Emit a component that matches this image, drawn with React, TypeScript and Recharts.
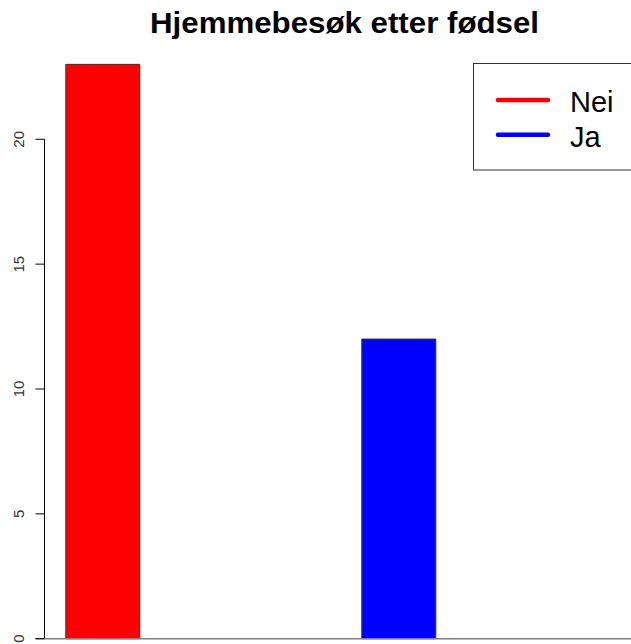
import { Bar, BarChart, Legend, ReferenceLine, XAxis, YAxis } from "recharts";

const groups = ["Nei", "Ja"];
const neiCounts = [23, 0];
const jaCounts = [0, 12];
const yTicks = [0, 5, 10, 15, 20];

const RED = "#ff0000";
const BLUE = "#0000ff";
const FONT = "'Liberation Sans', Arial, sans-serif";

// R barplot(beside=TRUE) layout: 2 bars per group, one bar-width of space in front
const BARS_PER_GROUP = 2;
const SPACE = 1;
const groupCenter = (i: number) =>
  SPACE + i * (BARS_PER_GROUP + SPACE) + BARS_PER_GROUP / 2;

const data = groups.map((g, i) => ({
  group: g,
  pos: groupCenter(i),
  Nei: neiCounts[i],
  Ja: jaCounts[i],
}));

const X_MIN = 0.712;
const X_MAX = 8.638;

function YTick(props: any) {
  const { y, payload } = props;
  return (
    <g>
      <text
        transform={`translate(23.5, ${y}) rotate(-90)`}
        textAnchor="middle"
        fontSize={15}
        fontFamily={FONT}
        fill="#333"
      >
        {payload.value}
      </text>
    </g>
  );
}

function LegendBox(props: any) {
  const items = [...(props.payload || [])].sort(
    (a: any, b: any) => groups.indexOf(a.value) - groups.indexOf(b.value)
  );
  return (
    <svg width={170} height={108} style={{ display: "block" }}>
      <rect x={0.5} y={0.5} width={200} height={106.5} fill="#fff" stroke="#333" />
      {items.map((it: any, i: number) => {
        const cy = 37 + i * 34.7;
        return (
          <g key={it.value}>
            <line
              x1={25}
              x2={75}
              y1={cy}
              y2={cy}
              stroke={it.color}
              strokeWidth={4.5}
              strokeLinecap="round"
            />
            <text x={97} y={cy + 12} fontSize={29} fontFamily={FONT} fill="#000">
              {it.value}
            </text>
          </g>
        );
      })}
    </svg>
  );
}

export default function App() {
  return (
    <div
      style={{
        position: "absolute",
        left: 0,
        top: 0,
        width: 631,
        height: 644,
        overflow: "hidden",
        background: "#fff",
      }}
    >
      <BarChart
        width={631}
        height={644}
        data={data}
        margin={{ top: 39.4, right: 0, bottom: 5.3, left: 0.5 }}
        barGap={0}
      >
        <text
          x={150}
          y={33}
          fontSize={30}
          fontWeight="bold"
          fontFamily={FONT}
          textLength={389}
          lengthAdjust="spacingAndGlyphs"
          fill="#000"
        >
          Hjemmebesøk etter fødsel
        </text>
        <XAxis type="number" dataKey="pos" domain={[X_MIN, X_MAX]} hide />
        <YAxis
          type="number"
          domain={[0, 24]}
          ticks={yTicks}
          width={44}
          axisLine={false}
          tickLine={{ stroke: "#000" }}
          tickSize={9}
          tickMargin={0}
          tick={<YTick />}
          interval={0}
        />
        <ReferenceLine
          segment={[
            { x: X_MIN, y: 0 },
            { x: X_MIN, y: 20 },
          ]}
          stroke="#000"
          ifOverflow="visible"
        />
        <Bar dataKey="Nei" fill={RED} stroke="#333" barSize={74} isAnimationActive={false} />
        <Bar dataKey="Ja" fill={BLUE} stroke="#333" barSize={74} isAnimationActive={false} />
        <ReferenceLine
          segment={[
            { x: X_MIN - 9 / 74, y: 0 },
            { x: X_MAX, y: 0 },
          ]}
          stroke="#808080"
          strokeWidth={1.5}
          ifOverflow="visible"
        />
        <Legend
          layout="horizontal"
          verticalAlign="middle"
          align="center"
          itemSorter={null}
          content={<LegendBox />}
          wrapperStyle={{ position: "absolute", left: 473, top: 63, width: 170, height: 108 }}
        />
      </BarChart>
    </div>
  );
}
